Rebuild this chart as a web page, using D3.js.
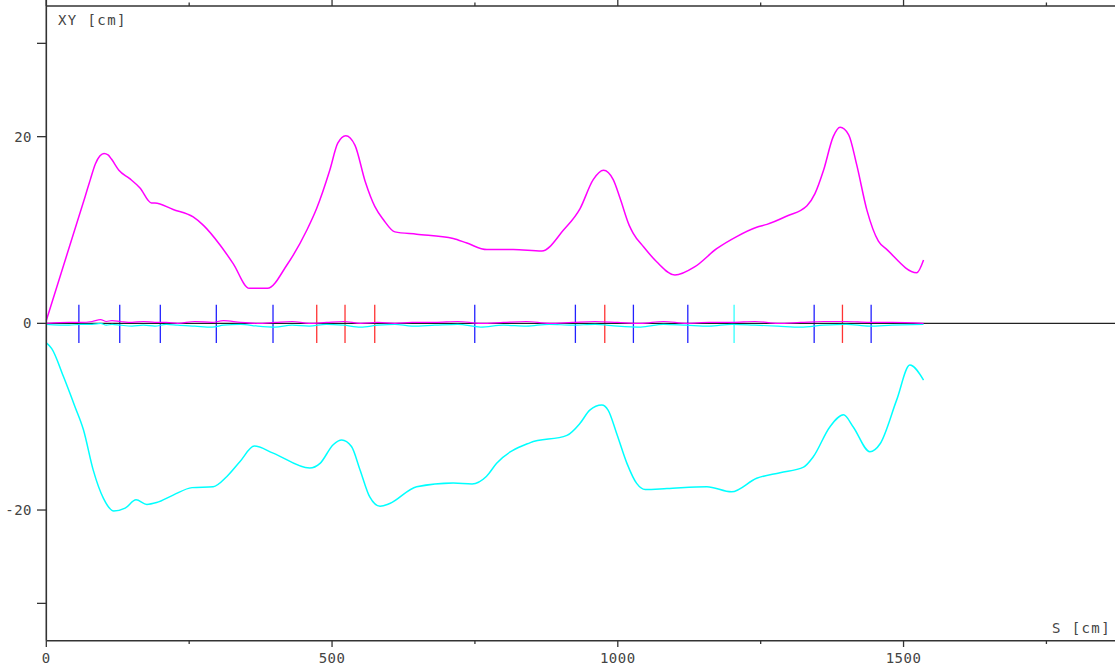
<!DOCTYPE html>
<html>
<head>
<meta charset="utf-8">
<script src="https://cdn.jsdelivr.net/npm/d3@7"></script>
<style>
  html, body { margin: 0; padding: 0; background: #fff; }
  svg { display: block; }
  text { font-family: "DejaVu Sans Mono", monospace; font-size: 14px; fill: #444; letter-spacing: 1.4px; }
</style>
</head>
<body>
<svg id="chart" width="1115" height="665"></svg>
<script>
// ---- data ----
const envXs = [0, 68, 77, 86, 94, 101, 108, 114, 127, 146, 164, 184, 190, 222, 257, 275, 304, 327, 355, 387, 421, 456, 473, 496, 510, 524, 540, 558, 575, 590, 610, 648, 712, 736, 771, 817, 867, 905, 934, 957, 975, 992, 1004, 1020, 1027, 1045, 1068, 1100, 1135, 1173, 1208, 1243, 1261, 1296, 1331, 1345, 1360, 1377, 1389, 1404, 1418, 1436, 1456, 1471, 1523, 1535];
const envXv = [0.3, 13.6, 15.4, 17.1, 17.95, 18.2, 18.05, 17.6, 16.4, 15.5, 14.5, 12.9, 12.9, 12.2, 11.4, 10.5, 8.4, 6.4, 3.75, 3.75, 6.25, 10.0, 12.3, 16.4, 19.3, 20.1, 19.1, 15.2, 12.5, 11.1, 9.8, 9.55, 9.1, 8.6, 7.9, 7.9, 7.75, 10.0, 12.3, 15.4, 16.4, 15.4, 13.4, 10.5, 9.65, 8.2, 6.6, 5.17, 6.07, 8.0, 9.3, 10.3, 10.6, 11.5, 12.6, 13.9, 16.4, 20.0, 21.0, 20.2, 17.0, 12.1, 8.8, 7.9, 5.43, 6.8];

const envYs = [0, 9.5, 30, 50, 65, 82, 100, 118, 138, 157, 176, 193, 222, 255, 292, 316, 339, 364, 397, 461, 479, 502, 517, 534, 549, 566, 584, 601, 648, 712, 745, 770, 788, 846, 911, 934, 951, 972, 983, 998, 1016, 1033, 1048, 1086, 1156, 1199, 1243, 1284, 1325, 1342, 1371, 1395, 1412, 1441, 1459, 1488, 1511, 1535];
const envYv = [-2.1, -2.7, -5.7, -8.9, -11.4, -15.7, -18.75, -20.1, -19.8, -18.9, -19.4, -19.2, -18.4, -17.6, -17.5, -16.4, -14.8, -13.15, -13.9, -15.5, -15.0, -13.0, -12.5, -13.2, -15.7, -18.6, -19.6, -19.3, -17.5, -17.1, -17.2, -16.4, -15.0, -12.8, -12.0, -10.7, -9.3, -8.76, -9.3, -11.8, -15.0, -17.15, -17.8, -17.7, -17.5, -18.05, -16.6, -16.0, -15.4, -14.3, -11.1, -9.8, -11.1, -13.75, -12.9, -8.2, -4.47, -6.08];

// centroid orbits (small deviations near the axis)
const cenS  = [0, 40, 60, 80, 95, 105, 115, 130, 150, 170, 190, 210, 230, 260, 290, 310, 340, 370, 400, 430, 460, 490, 520, 550, 580, 610, 640, 680, 720, 760, 800, 840, 880, 920, 960, 1000, 1040, 1080, 1120, 1160, 1200, 1240, 1280, 1320, 1360, 1400, 1440, 1480, 1535];
const cenX  = [0.0, 0.1, 0.1, 0.2, 0.4, 0.2, 0.3, 0.2, 0.1, 0.2, 0.1, 0.1, 0.0, 0.2, 0.1, 0.3, 0.1, 0.0, 0.1, 0.2, 0.0, 0.1, 0.2, 0.0, 0.1, 0.0, 0.1, 0.1, 0.2, 0.0, 0.1, 0.2, 0.0, 0.1, 0.2, 0.1, 0.0, 0.2, 0.0, 0.1, 0.1, 0.2, 0.0, 0.1, 0.2, 0.2, 0.1, 0.1, 0.0];
const cenY  = [-0.1, -0.2, -0.1, -0.1, 0.0, -0.2, -0.1, -0.2, -0.3, -0.2, -0.3, -0.1, -0.2, -0.3, -0.4, -0.2, -0.1, -0.3, -0.4, -0.2, -0.3, -0.1, -0.2, -0.4, -0.2, -0.1, -0.3, -0.2, -0.1, -0.4, -0.2, -0.3, -0.1, -0.2, -0.1, -0.3, -0.4, -0.1, -0.2, -0.3, -0.1, -0.2, -0.3, -0.4, -0.2, -0.1, -0.3, -0.2, -0.1];

// lattice elements
const elemS    = [57, 128.5, 199.5, 297.5, 396.7, 473.2, 522.7, 574.7, 749.7, 925.8, 977.2, 1027.3, 1122.5, 1203.5, 1343.6, 1393.1, 1443.3];
const elemType = ["B", "B", "B", "B", "B", "R", "R", "R", "B", "B", "R", "B", "B", "C", "B", "R", "B"];
const typeColor = { B: "#2222ff", R: "#ff3333", C: "#33ffff" };

const yTicks = [-30, -20, 0, 20, 30];
const yLabels = [-20, 0, 20];
const xMajor = [0, 500, 1000, 1500];
const xMinor = [250, 750, 1250, 1750];

// ---- chart ----
const svg = d3.select("#chart");
const x = d3.scaleLinear().domain([0, 1870]).range([46.3, 1115]);
const y = d3.scaleLinear().domain([-34, 34]).range([640.7, 6]);

const axisCol = "#333";

// element markers
svg.append("g").selectAll("line").data(elemS).join("line")
  .attr("x1", d => x(d)).attr("x2", d => x(d))
  .attr("y1", y(2.0)).attr("y2", y(-2.1))
  .attr("stroke", (d, i) => typeColor[elemType[i]])
  .attr("stroke-width", 1.3);

// zero line
svg.append("line").attr("x1", x(0)).attr("x2", 1115)
  .attr("y1", y(0)).attr("y2", y(0))
  .attr("stroke", "#222").attr("stroke-width", 1.3);

const line = d3.line().x(d => x(d[0])).y(d => y(d[1])).curve(d3.curveMonotoneX);

// centroids
svg.append("path").datum(cenS.map((s, i) => [s, cenY[i]]))
  .attr("d", line).attr("fill", "none").attr("stroke", "#00ffff").attr("stroke-width", 1.2);
svg.append("path").datum(cenS.map((s, i) => [s, cenX[i]]))
  .attr("d", line).attr("fill", "none").attr("stroke", "#ff00ff").attr("stroke-width", 1.2);

// envelopes
svg.append("path").datum(envXs.map((s, i) => [s, envXv[i]]))
  .attr("d", line).attr("fill", "none").attr("stroke", "#ff00ff").attr("stroke-width", 1.5);
svg.append("path").datum(envYs.map((s, i) => [s, envYv[i]]))
  .attr("d", line).attr("fill", "none").attr("stroke", "#00ffff").attr("stroke-width", 1.5);

// bottom axis
const gB = svg.append("g");
gB.append("line").attr("x1", x(0)).attr("x2", 1115).attr("y1", 640.7).attr("y2", 640.7)
  .attr("stroke", axisCol).attr("stroke-width", 1.5);
gB.selectAll(".mj").data(xMajor).join("line").attr("class", "mj")
  .attr("x1", d => x(d)).attr("x2", d => x(d)).attr("y1", 640.7).attr("y2", 647)
  .attr("stroke", axisCol).attr("stroke-width", 1.3);
gB.selectAll(".mn").data(xMinor).join("line").attr("class", "mn")
  .attr("x1", d => x(d)).attr("x2", d => x(d)).attr("y1", 640.7).attr("y2", 644)
  .attr("stroke", axisCol).attr("stroke-width", 1.3);
gB.selectAll("text").data(xMajor).join("text")
  .attr("x", d => x(d)).attr("y", 663).attr("text-anchor", "middle")
  .style("letter-spacing", "0.5px").text(d => d);

// top frame
const gT = svg.append("g");
gT.append("line").attr("x1", x(0)).attr("x2", 1115).attr("y1", 6).attr("y2", 6)
  .attr("stroke", axisCol).attr("stroke-width", 1.5);
gT.selectAll(".mj").data(xMajor).join("line").attr("class", "mj")
  .attr("x1", d => x(d)).attr("x2", d => x(d)).attr("y1", 6).attr("y2", 0)
  .attr("stroke", axisCol).attr("stroke-width", 1.3);
gT.selectAll(".mn").data(xMinor).join("line").attr("class", "mn")
  .attr("x1", d => x(d)).attr("x2", d => x(d)).attr("y1", 6).attr("y2", 2.5)
  .attr("stroke", axisCol).attr("stroke-width", 1.3);

// left axis
const gL = svg.append("g");
gL.append("line").attr("x1", 46.3).attr("x2", 46.3).attr("y1", 0).attr("y2", 640.7)
  .attr("stroke", axisCol).attr("stroke-width", 1.6);
gL.selectAll("line.t").data(yTicks).join("line").attr("class", "t")
  .attr("x1", 37).attr("x2", 46.3).attr("y1", d => y(d)).attr("y2", d => y(d))
  .attr("stroke", axisCol).attr("stroke-width", 1.3);
gL.selectAll("text").data(yLabels).join("text")
  .attr("x", 32).attr("y", d => y(d) + 5).attr("text-anchor", "end")
  .style("letter-spacing", "0.5px").text(d => d);

// axis titles
svg.append("text").attr("x", 58).attr("y", 25).text("XY [cm]");
svg.append("text").attr("x", 1052).attr("y", 633).text("S [cm]");
</script>
</body>
</html>
